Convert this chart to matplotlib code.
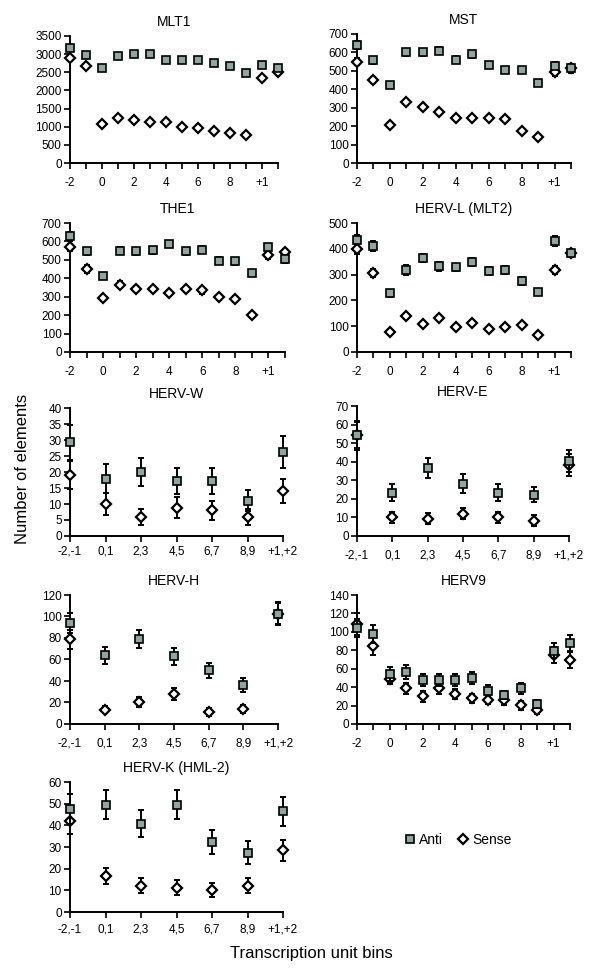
import numpy as np
import matplotlib
matplotlib.use('Agg')
import matplotlib.pyplot as plt
from matplotlib.lines import Line2D

plt.rcParams['font.family'] = ['Liberation Sans', 'DejaVu Sans']

# bins
bins14 = ['-2', '-1', '0', '1', '2', '3', '4', '5', '6', '7', '8', '9', '+1', '+2']
bins7 = ['-2,-1', '0,1', '2,3', '4,5', '6,7', '8,9', '+1,+2']

# MLT1
mlt1_anti = [3170, 2990, 2615, 2950, 3010, 3010, 2830, 2830, 2830, 2760, 2670, 2470, 2690, 2630]
mlt1_sense = [2900, 2670, 1070, 1230, 1190, 1140, 1120, 1000, 975, 875, 830, 760, 2350, 2520]

# MST
mst_anti = [640, 557, 423, 600, 600, 610, 561, 590, 532, 505, 505, 432, 528, 514]
mst_anti_err = [22, 18, 15, 18, 18, 18, 18, 18, 15, 18, 18, 15, 20, 25]
mst_sense = [550, 449, 208, 329, 302, 277, 242, 242, 242, 237, 174, 141, 492, 514]
mst_sense_err = [18, 15, 12, 15, 14, 13, 12, 12, 12, 14, 12, 10, 20, 20]

# THE1
the1_anti = [628, 546, 411, 550, 546, 552, 586, 546, 555, 496, 492, 429, 568, 505]
the1_anti_err = [25, 18, 15, 18, 18, 18, 18, 18, 18, 18, 18, 15, 20, 20]
the1_sense = [568, 450, 293, 365, 344, 344, 320, 342, 335, 297, 288, 199, 526, 541]
the1_sense_err = [20, 20, 15, 18, 15, 15, 15, 15, 18, 15, 15, 12, 20, 20]

# HERV-L (MLT2)
hervl_anti = [433, 410, 227, 318, 363, 332, 328, 350, 315, 318, 276, 231, 430, 382]
hervl_anti_err = [20, 20, 12, 18, 15, 18, 15, 15, 15, 15, 15, 12, 18, 15]
hervl_sense = [400, 306, 79, 138, 110, 133, 96, 114, 89, 98, 103, 66, 317, 382]
hervl_sense_err = [20, 15, 8, 10, 8, 10, 8, 10, 8, 8, 8, 6, 15, 15]

# HERV-W
hervw_anti = [29.3, 17.9, 20.0, 17.2, 17.2, 11.0, 26.3]
hervw_anti_err = [5.4, 4.5, 4.4, 4.1, 4.1, 3.3, 5.0]
hervw_sense = [19.0, 9.9, 5.9, 8.9, 8.0, 5.9, 14.0]
hervw_sense_err = [4.4, 3.4, 2.4, 3.2, 3.0, 2.4, 3.7]

# HERV-E
herve_anti = [54.2, 23.4, 36.4, 28.1, 23.4, 22.3, 40.3]
herve_anti_err = [7.7, 4.5, 5.4, 5.2, 4.5, 4.2, 6.0]
herve_sense = [54.2, 10.1, 9.2, 12.1, 10.1, 8.3, 38.2]
herve_sense_err = [7.0, 3.0, 3.0, 3.2, 3.0, 2.8, 6.0]

# HERV-H
hervh_anti = [93.7, 64.0, 79.2, 62.8, 49.8, 35.9, 102.7]
hervh_anti_err = [9.5, 7.8, 8.3, 8.0, 6.8, 6.5, 10.5]
hervh_sense = [78.9, 13.3, 20.4, 27.8, 11.1, 14.2, 102.7]
hervh_sense_err = [9.0, 3.0, 4.6, 5.6, 3.4, 3.7, 10.0]

# HERV9
herv9_anti = [104.3, 97.7, 54.1, 56.3, 48.0, 48.0, 48.0, 49.8, 36.1, 31.8, 39.0, 21.6, 79.7, 87.7]
herv9_anti_err = [10, 10, 7.6, 7.6, 6.5, 6.5, 6.5, 6.5, 5.8, 4.3, 6.0, 4.0, 8.3, 9.0]
herv9_sense = [108.6, 85.1, 49.1, 38.6, 29.9, 38.6, 32.4, 28.1, 26.3, 25.6, 20.2, 14.8, 75.0, 69.6]
herv9_sense_err = [12, 10, 6, 6, 5.5, 6, 5.5, 5, 5, 4.5, 4.5, 3.5, 8.7, 9]

# HERV-K (HML-2)
hervk_anti = [47.6, 49.5, 40.7, 49.5, 32.3, 27.4, 46.5]
hervk_anti_err = [7.0, 6.8, 6.2, 6.8, 5.6, 5.2, 6.8]
hervk_sense = [42.1, 16.4, 12.2, 11.3, 10.0, 12.2, 28.4]
hervk_sense_err = [6.3, 3.7, 3.3, 3.3, 3.2, 3.3, 5.0]

anti_color = '#8fa69f'

W, H = 600, 971
fig = plt.figure(figsize=(W / 100, H / 100), dpi=100)


def px_axes(left, right, top, bottom):
    return fig.add_axes([left / W, 1 - bottom / H, (right - left) / W, (bottom - top) / H])


def panel(box, title, anti, sense, anti_err, sense_err, ymax, ystep, wide, xpad=6):
    ax = px_axes(*box)
    n = len(anti)
    x = np.arange(n)
    if sense_err is not None:
        ax.errorbar(x, sense, yerr=sense_err, fmt='none', ecolor='black',
                    elinewidth=1.4, capsize=2.5, capthick=1.4, clip_on=False, zorder=2)
    ax.plot(x, sense, 'D', ms=5, mfc='white', mec='black', mew=1.6,
            clip_on=False, zorder=3)
    if anti_err is not None:
        ax.errorbar(x, anti, yerr=anti_err, fmt='none', ecolor='black',
                    elinewidth=1.4, capsize=2.5, capthick=1.4, clip_on=False, zorder=4)
    ax.plot(x, anti, 's', ms=6.3, mfc=anti_color, mec='black', mew=1.2,
            clip_on=False, zorder=5)

    ax.set_xlim(0, n - 1)
    ax.set_ylim(0, ymax)
    ax.set_yticks(np.arange(0, ymax + ystep / 2, ystep))
    ax.set_xticks(x)
    if wide:
        ax.set_xticklabels([b if i % 2 == 0 else '' for i, b in enumerate(bins14)])
    else:
        ax.set_xticklabels(bins7)
    for s in ['top', 'right']:
        ax.spines[s].set_visible(False)
    for s in ['left', 'bottom']:
        ax.spines[s].set_linewidth(1.4)
    ax.tick_params(axis='both', direction='out', length=4, width=1.2,
                   labelsize=8.5, colors='black')
    ax.tick_params(axis='x', pad=xpad)
    ax.tick_params(axis='y', pad=2)
    ax.set_title(title, fontsize=10, pad=7)
    return ax


panel((70, 278, 36, 163), 'MLT1', mlt1_anti, mlt1_sense, None, None, 3500, 500, True)
panel((357, 571, 34, 163), 'MST', mst_anti, mst_sense, mst_anti_err, mst_sense_err, 700, 100, True)
panel((70, 285, 223, 352), 'THE1', the1_anti, the1_sense, the1_anti_err, the1_sense_err, 700, 100, True)
panel((357, 571, 223, 352), 'HERV-L (MLT2)', hervl_anti, hervl_sense, hervl_anti_err, hervl_sense_err, 500, 100, True)
panel((70, 283, 408, 536), 'HERV-W', hervw_anti, hervw_sense, hervw_anti_err, hervw_sense_err, 40, 5, False, xpad=3)
panel((357, 569, 406, 536), 'HERV-E', herve_anti, herve_sense, herve_anti_err, herve_sense_err, 70, 10, False)
panel((70, 278, 595, 724), 'HERV-H', hervh_anti, hervh_sense, hervh_anti_err, hervh_sense_err, 120, 20, False)
panel((357, 570, 595, 724), 'HERV9', herv9_anti, herv9_sense, herv9_anti_err, herv9_sense_err, 140, 20, True)
panel((70, 283, 782, 912), 'HERV-K (HML-2)', hervk_anti, hervk_sense, hervk_anti_err, hervk_sense_err, 60, 10, False, xpad=4)

handles = [
    Line2D([], [], ls='none', marker='s', ms=6.3, mfc=anti_color, mec='black', mew=1.2, label='Anti'),
    Line2D([], [], ls='none', marker='D', ms=5, mfc='white', mec='black', mew=1.6, label='Sense'),
]
fig.legend(handles=handles, loc='center', bbox_to_anchor=(458 / W, 1 - 840 / H),
           ncol=2, frameon=False, fontsize=10, handlelength=0.8,
           handletextpad=0.3, columnspacing=1.0)

fig.text(23 / W, 1 - 469 / H, 'Number of elements', rotation=90,
         ha='center', va='center', fontsize=12)
fig.text(311 / W, 1 - 953 / H, 'Transcription unit bins',
         ha='center', va='center', fontsize=12)

fig.savefig('out.png', dpi=100, facecolor='white')
